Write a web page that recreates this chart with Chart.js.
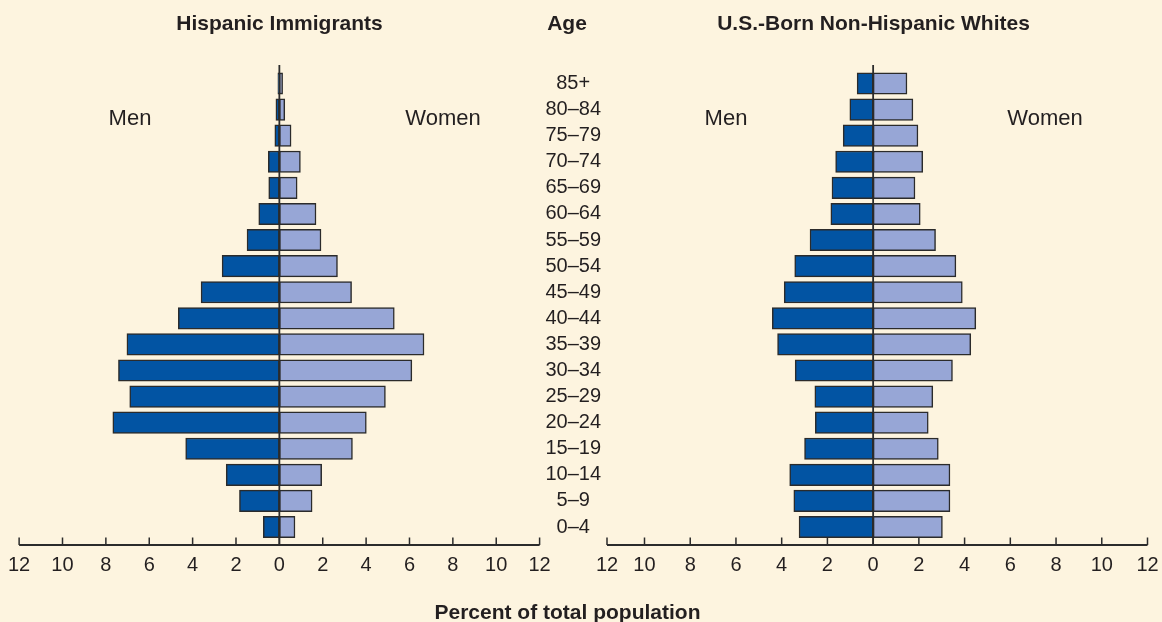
<!DOCTYPE html>
<html>
<head>
<meta charset="utf-8">
<script src="https://cdn.jsdelivr.net/npm/chart.js@4.4.1/dist/chart.umd.min.js"></script>
<style>
  html, body { margin: 0; padding: 0; background: #fdf4df; }
  #wrap { position: relative; width: 1162px; height: 622px; overflow: hidden; background: #fdf4df;
          font-family: "Liberation Sans", Arial, Helvetica, sans-serif; color: #231f20; }
  canvas { position: absolute; top: 0; }
  .t { position: absolute; transform: translate(-50%, -50%); white-space: nowrap; line-height: 1; }
  .b { font-weight: bold; font-size: 21px; }
  .r { font-size: 22px; }
</style>
</head>
<body>
<div id="wrap">
  <canvas id="left" width="560" height="622" style="left:0px"></canvas>
  <canvas id="right" width="647" height="622" style="left:520px"></canvas>

  <div class="t b" style="left:279.5px; top:22px">Hispanic Immigrants</div>
  <div class="t b" style="left:567px; top:22px">Age</div>
  <div class="t b" style="left:873.5px; top:22px">U.S.-Born Non-Hispanic Whites</div>

  <div class="t r" style="left:130px; top:118px">Men</div>
  <div class="t r" style="left:443px; top:118px">Women</div>
  <div class="t r" style="left:726px; top:118px">Men</div>
  <div class="t r" style="left:1045px; top:118px">Women</div>

  <div class="t b" style="left:567.5px; top:611px">Percent of total population</div>
</div>

<script>
// ---- data (youngest to oldest) ----
const ages = ['0–4','5–9','10–14','15–19','20–24','25–29','30–34','35–39','40–44',
              '45–49','50–54','55–59','60–64','65–69','70–74','75–79','80–84','85+'];

const hispanicMen   = [0.74, 1.84, 2.45, 4.32, 7.68, 6.90, 7.42, 7.03, 4.66, 3.61, 2.64, 1.49, 0.95, 0.49, 0.51, 0.21, 0.16, 0.07];
const hispanicWomen = [0.72, 1.51, 1.95, 3.37, 4.01, 4.89, 6.11, 6.67, 5.30, 3.33, 2.68, 1.92, 1.69, 0.82, 0.97, 0.54, 0.25, 0.15];

const whiteMen   = [3.24, 3.47, 3.65, 3.00, 2.53, 2.55, 3.41, 4.18, 4.41, 3.89, 3.43, 2.76, 1.85, 1.80, 1.64, 1.31, 1.02, 0.70];
const whiteWomen = [3.03, 3.36, 3.36, 2.85, 2.41, 2.61, 3.47, 4.27, 4.49, 3.90, 3.62, 2.73, 2.06, 1.83, 2.17, 1.96, 1.74, 1.48];

const xTickValues = [-12, -10, -8, -6, -4, -2, 0, 2, 4, 6, 8, 10, 12];

// ---- style ----
const MEN_COLOR = '#0254a3';
const WOMEN_COLOR = '#97a6d6';
const EDGE = '#2b2b2b';
const INK = '#231f20';
const FONT = '"Liberation Sans", Arial, Helvetica, sans-serif';

const axisDeco = {
  id: 'axisDeco',
  afterDatasetsDraw(chart) {
    const { ctx, chartArea: a, scales: { x } } = chart;
    ctx.save();
    ctx.strokeStyle = EDGE;
    ctx.lineWidth = 1.8;
    const x0 = x.getPixelForValue(0);
    ctx.beginPath(); ctx.moveTo(x0, a.top); ctx.lineTo(x0, a.bottom); ctx.stroke();
    ctx.lineWidth = 1.8;
    ctx.beginPath(); ctx.moveTo(a.left, a.bottom); ctx.lineTo(a.right, a.bottom); ctx.stroke();
    ctx.lineWidth = 1.5;
    x.ticks.forEach(t => {
      const px = x.getPixelForValue(t.value);
      ctx.beginPath(); ctx.moveTo(px, a.bottom); ctx.lineTo(px, a.bottom - 7.5); ctx.stroke();
    });
    ctx.restore();
  }
};

function makeChart(id, men, women, xMin, showAges, padding) {
  return new Chart(document.getElementById(id), {
    type: 'bar',
    data: {
      datasets: [
        { label: 'Men', data: men.map((v, i) => ({ x: -v, y: i })),
          backgroundColor: MEN_COLOR, borderColor: EDGE, borderWidth: 1.5, borderSkipped: false },
        { label: 'Women', data: women.map((v, i) => ({ x: v, y: i })),
          backgroundColor: WOMEN_COLOR, borderColor: EDGE, borderWidth: 1.5, borderSkipped: false }
      ]
    },
    options: {
      indexAxis: 'y',
      responsive: false,
      animation: false,
      barThickness: 21.5,
      layout: { padding },
      plugins: { legend: { display: false }, tooltip: { enabled: false } },
      scales: {
        x: {
          type: 'linear', stacked: true, min: xMin, max: 12,
          grid: { display: false, drawTicks: false },
          border: { display: false },
          afterBuildTicks(s) {
            s.ticks = [xMin, ...xTickValues.filter(v => v > xMin)].map(v => ({ value: v }));
          },
          afterFit(s) { s.height = 40; },
          ticks: {
            autoSkip: false, maxRotation: 0, padding: 8, color: INK,
            font: { family: FONT, size: 20 },
            callback: (v) => String(Math.round(Math.abs(v)))
          }
        },
        y: {
          type: 'linear', stacked: true, min: -0.69, max: 17.71, offset: false,
          display: showAges,
          position: 'left',
          grid: { display: false, drawTicks: false, offset: false },
          border: { display: false },
          afterBuildTicks(s) { s.ticks = ages.map((_, i) => ({ value: i })); },
          afterFit(s) { s.width = showAges ? 87 : 0; },
          ticks: {
            autoSkip: false, crossAlign: 'center', padding: 6, color: INK,
            font: { family: FONT, size: 20 },
            callback: (v) => ages[v]
          }
        }
      }
    },
    plugins: [axisDeco]
  });
}

makeChart('left', hispanicMen, hispanicWomen, -12, false,
          { left: 18.6, right: 20.4, top: 65, bottom: 37 });
makeChart('right', whiteMen, whiteWomen, -11.64, true,
          { left: 0, right: 19.5, top: 65, bottom: 37 });
</script>
</body>
</html>
